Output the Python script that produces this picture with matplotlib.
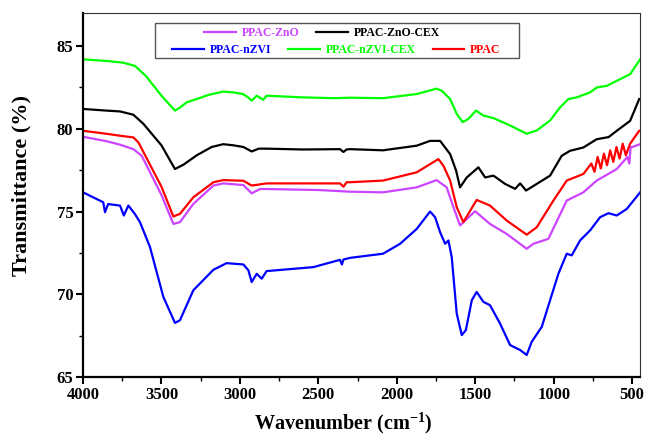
import numpy as np
import matplotlib
matplotlib.use('Agg')
import matplotlib.pyplot as plt
from matplotlib.patches import Rectangle
from matplotlib.ticker import MultipleLocator

plt.rcParams['font.family'] = ['Liberation Serif', 'DejaVu Serif']
plt.rcParams['font.weight'] = 'bold'
plt.rcParams['mathtext.fontset'] = 'custom'
plt.rcParams['mathtext.rm'] = 'Liberation Serif:bold'
plt.rcParams['mathtext.bf'] = 'Liberation Serif:bold'

# ---- data (wavenumber, transmittance) ----
x_green = [4000, 3850, 3745, 3669, 3600, 3500, 3414, 3380, 3339, 3275, 3200, 3107, 3040, 2980, 2948,
           2925, 2893, 2852, 2830, 2600, 2400, 2298, 2088, 1873, 1746, 1713, 1660, 1618, 1580, 1544,
           1495, 1448, 1385, 1278, 1172, 1108, 1023, 959, 906, 853, 768, 725, 660, 598, 513, 449]
y_green = [84.2, 84.1, 84.0, 83.8, 83.2, 82.0, 81.1, 81.3, 81.6, 81.8, 82.05, 82.25, 82.2, 82.1, 81.9,
           81.7, 82.0, 81.75, 82.0, 81.9, 81.85, 81.88, 81.85, 82.1, 82.43, 82.3, 81.8, 80.9, 80.4, 80.6,
           81.1, 80.8, 80.65, 80.2, 79.7, 79.9, 80.5, 81.3, 81.8, 81.9, 82.2, 82.5, 82.6, 82.9, 83.3, 84.2]

x_black = [4000, 3850, 3764, 3679, 3615, 3500, 3414, 3360, 3275, 3180, 3106, 3040, 2978, 2925, 2880,
           2830, 2600, 2362, 2340, 2320, 2298, 2088, 1873, 1788, 1724, 1660, 1622, 1597, 1554, 1480,
           1437, 1384, 1310, 1246, 1214, 1176, 1108, 1023, 949, 896, 811, 726, 650, 598, 513, 455]
y_black = [81.2, 81.1, 81.05, 80.85, 80.3, 79.0, 77.57, 77.83, 78.4, 78.9, 79.07, 79.0, 78.9, 78.63, 78.8,
           78.8, 78.75, 78.77, 78.6, 78.75, 78.77, 78.7, 78.98, 79.27, 79.27, 78.47, 77.47, 76.46, 77.06, 77.67,
           77.06, 77.17, 76.67, 76.37, 76.7, 76.27, 76.67, 77.17, 78.37, 78.67, 78.87, 79.37, 79.5, 79.88, 80.48, 81.8]

x_red = [4000, 3850, 3764, 3679, 3647, 3500, 3424, 3382, 3297, 3169, 3106, 2978, 2925, 2830, 2362,
         2340, 2320, 2298, 2088, 1873, 1735, 1703, 1660, 1618, 1576, 1544, 1491, 1406, 1300, 1172,
         1108, 1002, 917, 811, 760, 740, 720, 700, 680, 660, 640, 620, 600, 580, 560, 540, 513, 455]
y_red = [79.88, 79.7, 79.58, 79.48, 79.18, 76.5, 74.7, 74.86, 75.86, 76.77, 76.9, 76.86, 76.57, 76.7, 76.7,
         76.5, 76.77, 76.77, 76.87, 77.37, 78.17, 77.77, 76.87, 75.26, 74.36, 74.86, 75.7, 75.36, 74.46, 73.6,
         74.05, 75.66, 76.87, 77.27, 77.9, 77.4, 78.3, 77.6, 78.5, 77.8, 78.7, 78.0, 78.9, 78.2, 79.1, 78.4, 79.1, 79.88]

x_mag = [4000, 3850, 3764, 3679, 3626, 3500, 3424, 3382, 3297, 3169, 3106, 2978, 2925, 2872, 2830,
         2500, 2298, 2088, 1873, 1746, 1682, 1639, 1597, 1501, 1406, 1300, 1172, 1130, 1034, 917,
         811, 726, 598, 530, 518, 510, 500, 449]
y_mag = [79.52, 79.25, 79.04, 78.77, 78.37, 76.0, 74.25, 74.36, 75.46, 76.57, 76.7, 76.6, 76.1, 76.36, 76.36,
         76.3, 76.2, 76.16, 76.46, 76.9, 76.46, 75.26, 74.16, 75.02, 74.25, 73.65, 72.75, 73.05, 73.35, 75.66,
         76.16, 76.87, 77.57, 78.3, 77.9, 78.9, 78.9, 79.07]

x_blue = [4000, 3871, 3860, 3840, 3764, 3740, 3711, 3670, 3637, 3573, 3488, 3414, 3382, 3297, 3169,
          3085, 2978, 2946, 2925, 2893, 2861, 2830, 2532, 2362, 2350, 2340, 2298, 2088, 1979, 1873,
          1788, 1756, 1724, 1692, 1671, 1650, 1618, 1586, 1560, 1522, 1491, 1448, 1406, 1342, 1278,
          1214, 1172, 1140, 1076, 1023, 970, 917, 885, 832, 768, 704, 651, 598, 534, 449]
y_blue = [76.16, 75.56, 74.96, 75.45, 75.36, 74.76, 75.36, 74.86, 74.36, 72.85, 69.84, 68.27, 68.43, 70.24, 71.48,
          71.88, 71.8, 71.45, 70.74, 71.24, 70.94, 71.4, 71.64, 72.08, 71.8, 72.1, 72.2, 72.45, 73.05, 73.95,
          75.0, 74.66, 73.75, 73.05, 73.25, 72.25, 68.83, 67.53, 67.83, 69.64, 70.14, 69.54, 69.34, 68.23, 66.93,
          66.63, 66.33, 67.13, 68.03, 69.64, 71.24, 72.45, 72.35, 73.25, 73.86, 74.66, 74.9, 74.76, 75.16, 76.16]

fig = plt.figure(figsize=(6.46, 4.40), dpi=100)
ax = fig.add_axes([0.1285, 0.1432, 0.8622, 0.8273])

lw = 1.6
l_mag, = ax.plot(x_mag, y_mag, color='#CC44FF', lw=lw, label='PPAC-ZnO')
l_blk, = ax.plot(x_black, y_black, color='black', lw=lw, label='PPAC-ZnO-CEX')
l_blu, = ax.plot(x_blue, y_blue, color='#0000FF', lw=lw, label='PPAC-nZVI')
l_grn, = ax.plot(x_green, y_green, color='#00FF00', lw=lw, label='PPAC-nZVI-CEX')
l_red, = ax.plot(x_red, y_red, color='#FF0000', lw=lw, label='PPAC')

ax.set_xlim(4000, 450)
ax.set_ylim(65, 87)
ax.xaxis.set_major_locator(MultipleLocator(500))
ax.xaxis.set_minor_locator(MultipleLocator(250))
ax.yaxis.set_major_locator(MultipleLocator(5))
ax.yaxis.set_minor_locator(MultipleLocator(2.5))
ax.tick_params(which='major', direction='out', length=5, width=1.5, labelsize=12, pad=2)
ax.tick_params(which='minor', direction='out', length=3, width=1.0)
ax.tick_params(top=False, right=False)
for lab in ax.get_xticklabels() + ax.get_yticklabels():
    lab.set_fontweight('bold')

ax.spines['left'].set_linewidth(1.6)
ax.spines['bottom'].set_linewidth(1.6)
ax.spines['top'].set_linewidth(0.8)
ax.spines['right'].set_linewidth(0.8)
ax.spines['top'].set_color('#333333')
ax.spines['right'].set_color('#333333')

ax.set_xlabel('Wavenumber (cm$^{\\mathbf{-1}}$)', fontsize=14.5, fontweight='bold')
ax.set_ylabel('Transmittance (%)', fontsize=16, fontweight='bold')
ax.xaxis.set_label_coords(0.468, -0.09)
ax.yaxis.set_label_coords(-0.092, 0.525)

# legend: box with two rows
fig.patches.append(Rectangle((0.240, 0.868), 0.563, 0.080, transform=fig.transFigure,
                             fill=False, edgecolor='#555555', lw=1.0, zorder=5))
leg_kw = dict(frameon=False, handlelength=2.7, handletextpad=0.5,
              columnspacing=1.4, borderpad=0, labelcolor='linecolor',
              prop={'weight': 'bold', 'size': 8.5})
leg1 = fig.legend(handles=[l_mag, l_blk], ncol=2, loc='center',
                  bbox_to_anchor=(0.499, 0.925), **leg_kw)
leg2 = fig.legend(handles=[l_blu, l_grn, l_red], ncol=3, loc='center',
                  bbox_to_anchor=(0.521, 0.886), **leg_kw)

fig.savefig('out.png', dpi=100)
